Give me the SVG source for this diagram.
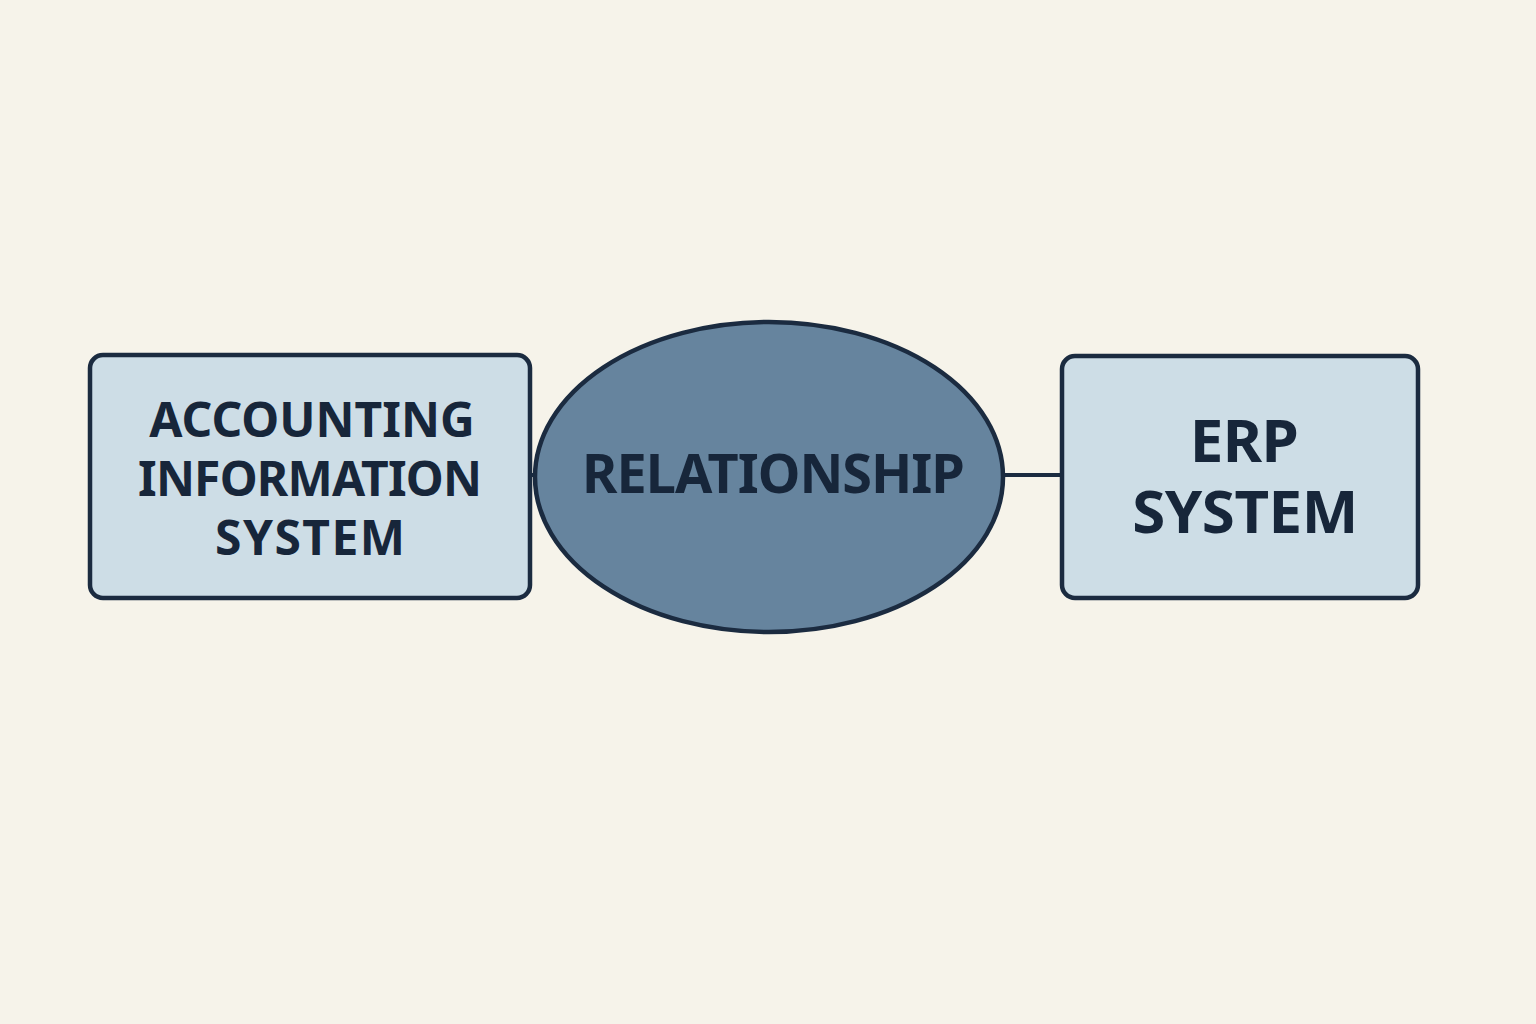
<svg xmlns="http://www.w3.org/2000/svg" width="1536" height="1024" viewBox="0 0 1536 1024">
<style>
.box{fill:#cddde6;stroke:#1b2b40;stroke-width:4.5}
.ell{fill:#66849e;stroke:#1b2b40;stroke-width:4.5}
.edge{stroke:#1b2b40;stroke-width:4;fill:none}
text{font-family:"Noto Sans","Liberation Sans",sans-serif;font-weight:700;fill:#17263a;text-anchor:middle}
.t1{font-size:48px;letter-spacing:0px}
.t2{font-size:54px;letter-spacing:-1px}
.t3{font-size:60px;letter-spacing:-0.5px}
</style>
<rect width="1536" height="1024" fill="#f6f3ea"/>
<g id="connectors">
<line class="edge" x1="530" y1="475" x2="537" y2="475"/>
<line class="edge" x1="1001" y1="475" x2="1062" y2="475"/>
</g>
<g id="ais">
<rect class="box" x="90" y="355" width="440" height="243" rx="13"/>
<text class="t1" x="312" y="437">ACCOUNTING</text>
<text class="t1" x="310" y="496" textLength="344" lengthAdjust="spacing">INFORMATION</text>
<text class="t1" x="310" y="555" textLength="190" lengthAdjust="spacing">SYSTEM</text>
</g>
<g id="relationship">
<ellipse class="ell" cx="769" cy="477" rx="234" ry="155"/>
<text class="t2" x="773" y="493">RELATIONSHIP</text>
</g>
<g id="erp">
<rect class="box" x="1062" y="356" width="356" height="242" rx="13"/>
<text class="t3" x="1244" y="462">ERP</text>
<text class="t3" x="1245" y="533">SYSTEM</text>
</g>
</svg>
